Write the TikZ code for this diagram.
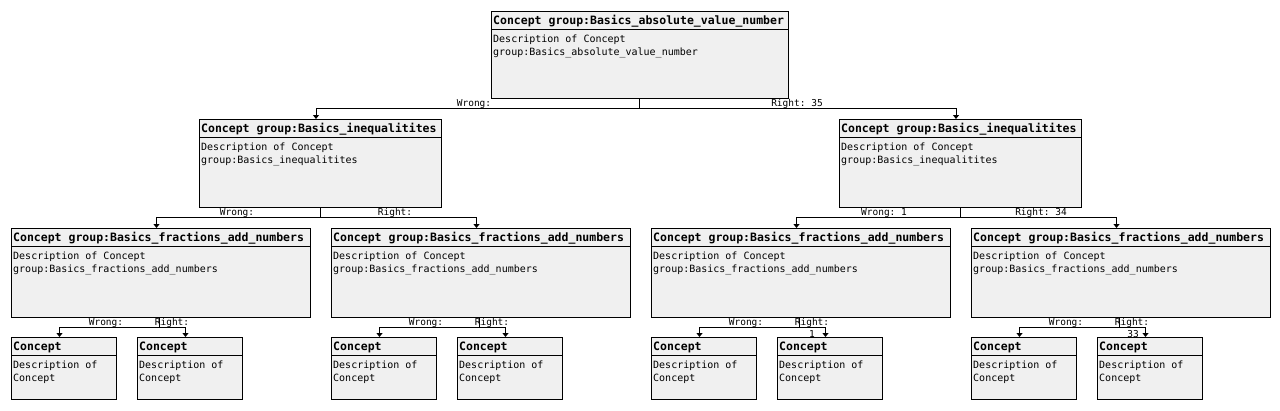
\documentclass[tikz,border=0pt]{standalone}
\usepackage{fontspec}
\setmonofont{DejaVu Sans Mono}
\usetikzlibrary{arrows.meta}
\definecolor{boxfill}{HTML}{F0F0F0}
\tikzset{
  cbox/.style={draw=black, fill=boxfill, line width=1pt, inner sep=0pt, outer sep=0pt,
    anchor=north west, rectangle},
  ttl/.style={font=\ttfamily\bfseries\fontsize{11.5}{13}\selectfont, inner sep=0pt, anchor=base west},
  dsc/.style={font=\ttfamily\fontsize{10}{12}\selectfont, inner sep=0pt, anchor=base west},
  lbl/.style={font=\ttfamily\fontsize{9.5}{12}\selectfont, inner sep=0pt, anchor=base},
  conn/.style={draw=black, line width=1pt, -{Triangle[length=4pt,width=6pt]}},
  seg/.style={draw=black, line width=1pt},
}
\newcommand{\cbx}[6]{% name, x, y, w, h, title
  \node[cbox, minimum width=#4pt, minimum height=#5pt] (#1) at (#2,#3) {};
  \draw[seg] ([yshift=-18.5pt]#1.north west) -- ([yshift=-18.5pt]#1.north east);
  \node[ttl] (#1-t) at ([xshift=2pt,yshift=-13pt]#1.north west) {#6};
}
\newcommand{\dl}[3]{% name, line index (1/2), text
  \node[dsc] (#1-d#2) at ([xshift=2pt,yshift=-#2*13.5pt-17.5pt]#1.north west) {#3};
}
\begin{document}
\begin{tikzpicture}[x=1pt,y=-1pt]
\useasboundingbox[fill=white] (0,0) rectangle (1280,410);

% top
\cbx{top}{491}{11}{297}{87}{Concept group:Basics\_absolute\_value\_number}
\dl{top}{1}{Description of Concept}
\dl{top}{2}{group:Basics\_absolute\_value\_number}

% level 2
\cbx{la}{199}{119}{242}{88}{Concept group:Basics\_inequalitites}
\dl{la}{1}{Description of Concept}
\dl{la}{2}{group:Basics\_inequalitites}
\cbx{lb}{839}{119}{242}{88}{Concept group:Basics\_inequalitites}
\dl{lb}{1}{Description of Concept}
\dl{lb}{2}{group:Basics\_inequalitites}

% level 3
\foreach \n/\x in {ma/11, mb/331, mc/651, md/971}{
  \cbx{\n}{\x}{228}{299}{89}{Concept group:Basics\_fractions\_add\_numbers}
  \dl{\n}{1}{Description of Concept}
  \dl{\n}{2}{group:Basics\_fractions\_add\_numbers}
}

% leaves
\foreach \n/\x in {a1/11, a2/137, b1/331, b2/457, c1/651, c2/777, d1/971, d2/1097}{
  \cbx{\n}{\x}{337}{105}{62}{Concept}
  \dl{\n}{1}{Description of}
  \dl{\n}{2}{Concept}
}

% connectors
\draw[conn] (top.south) -- ++(0,10) -| ([xshift=-4pt]la.north);
\draw[conn] (top.south) -- ++(0,10) -| ([xshift=-4pt]lb.north);
\draw[conn] (la.south) -- ++(0,10) -| ([xshift=-4pt]ma.north);
\draw[conn] (la.south) -- ++(0,10) -| ([xshift=-4pt]mb.north);
\draw[conn] (lb.south) -- ++(0,10) -| ([xshift=-4pt]mc.north);
\draw[conn] (lb.south) -- ++(0,10) -| ([xshift=-4pt]md.north);
\foreach \p/\l/\r in {ma/a1/a2, mb/b1/b2, mc/c1/c2, md/d1/d2}{
  \draw[conn] ([xshift=-1pt]\p.south) -- ++(0,10) -| ([xshift=-4pt]\l.north);
  \draw[conn] ([xshift=-1pt]\p.south) -- ++(0,10) -| ([xshift=-4pt]\r.north);
}

% labels
\node[lbl] (w0) at (474,106) {Wrong:};
\node[lbl] (r0) at (797,106) {Right: 35};
\node[lbl] (w1) at (237,215) {Wrong:};
\node[lbl] (r1) at (395,215) {Right:};
\node[lbl] (w2) at (884,215) {Wrong: 1};
\node[lbl] (r2) at (1041,215) {Right: 34};
\node[lbl] (w3) at (106,325) {Wrong:};
\node[lbl] (r3) at (172,325) {Right:};
\node[lbl] (w4) at (426,325) {Wrong:};
\node[lbl] (r4) at (492,325) {Right:};
\node[lbl] (w5) at (746,325) {Wrong:};
\node[lbl] (r5) at (812,325) {Right:};
\node[lbl] (r5b) at (812,337) {1};
\node[lbl] (w6) at (1066,325) {Wrong:};
\node[lbl] (r6) at (1132,325) {Right:};
\node[lbl] (r6b) at (1133,337) {33};
\end{tikzpicture}
\end{document}
